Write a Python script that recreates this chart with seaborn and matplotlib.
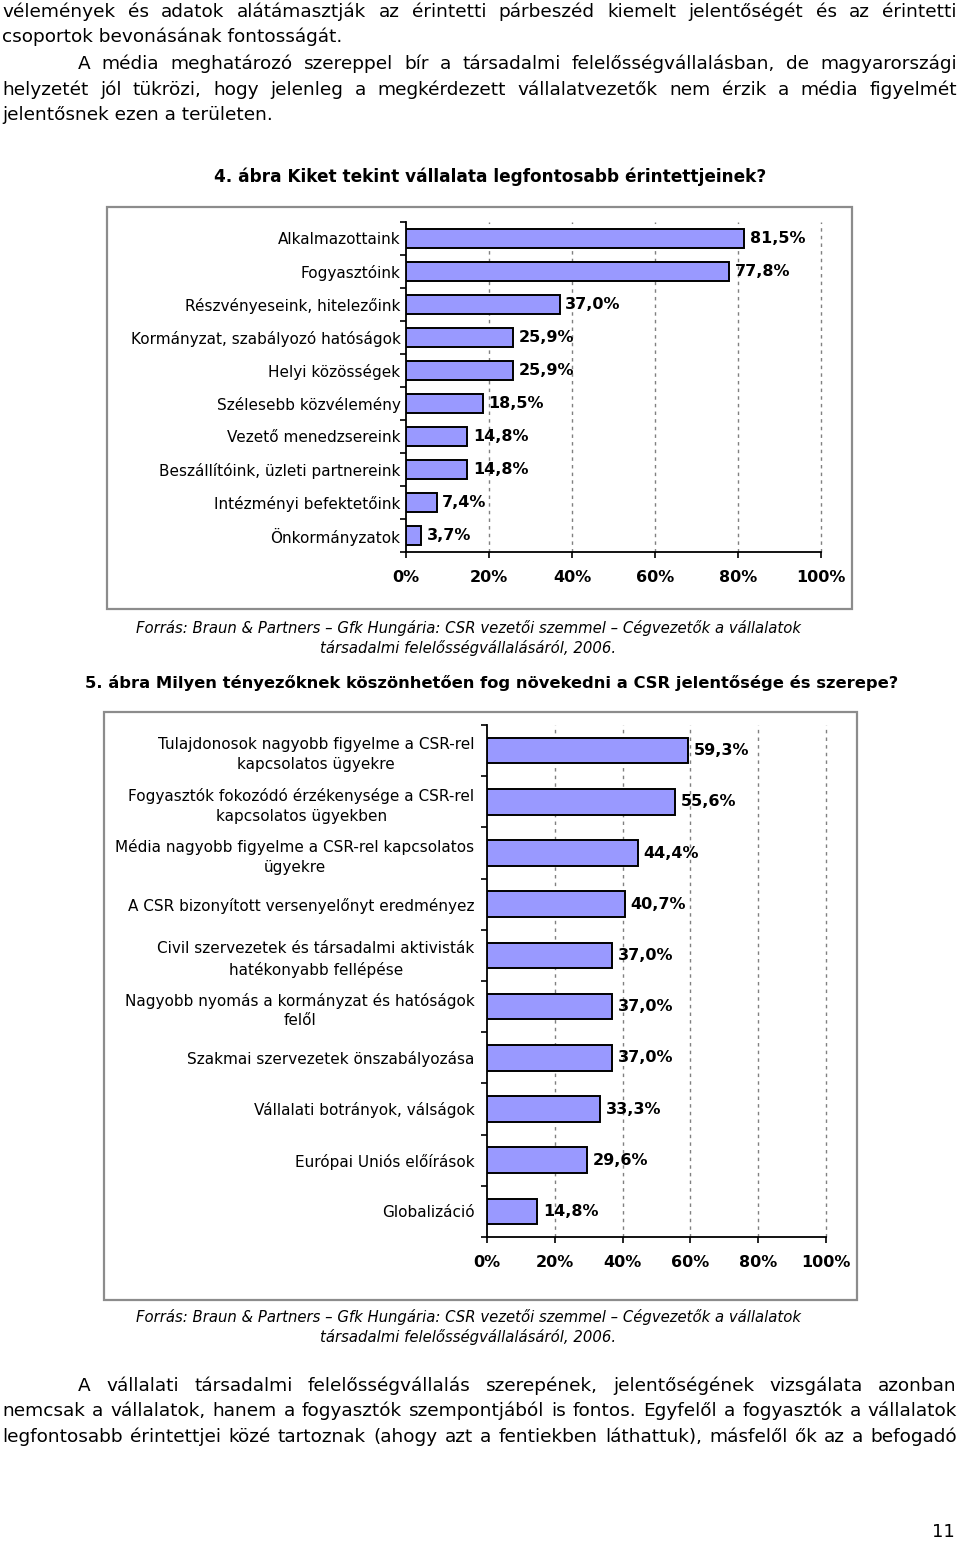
import matplotlib
matplotlib.use("Agg")
import numpy as np
import pandas as pd
import matplotlib.pyplot as plt
import seaborn as sns
from matplotlib.patches import Rectangle

W, H = 960, 1541

# 4. ábra
stakeholders = [
    "Alkalmazottaink",
    "Fogyasztóink",
    "Részvényeseink, hitelezőink",
    "Kormányzat, szabályozó hatóságok",
    "Helyi közösségek",
    "Szélesebb közvélemény",
    "Vezető menedzsereink",
    "Beszállítóink, üzleti partnereink",
    "Intézményi befektetőink",
    "Önkormányzatok",
]
stakeholder_pct = [81.5, 77.8, 37.0, 25.9, 25.9, 18.5, 14.8, 14.8, 7.4, 3.7]

# 5. ábra
drivers = [
    "Tulajdonosok nagyobb figyelme a CSR-rel\nkapcsolatos ügyekre",
    "Fogyasztók fokozódó érzékenysége a CSR-rel\nkapcsolatos ügyekben",
    "Média nagyobb figyelme a CSR-rel kapcsolatos\nügyekre",
    "A CSR bizonyított versenyelőnyt eredményez",
    "Civil szervezetek és társadalmi aktivisták\nhatékonyabb fellépése",
    "Nagyobb nyomás a kormányzat és hatóságok\nfelől",
    "Szakmai szervezetek önszabályozása",
    "Vállalati botrányok, válságok",
    "Európai Uniós előírások",
    "Globalizáció",
]
driver_pct = [59.3, 55.6, 44.4, 40.7, 37.0, 37.0, 37.0, 33.3, 29.6, 14.8]

x_ticks = [0, 20, 40, 60, 80, 100]

sns.set_theme(style="white")
plt.rcParams["font.family"] = ["DejaVu Sans"]
plt.rcParams["text.color"] = "black"
plt.rcParams["xtick.color"] = "black"
plt.rcParams["ytick.color"] = "black"
plt.rcParams["axes.labelcolor"] = "black"

fig = plt.figure(figsize=(W / 100, H / 100), dpi=100)
fig.patch.set_facecolor("white")


def fx(px):
    return px / W


def fy(py):
    return 1 - py / H


def bar_chart(left, top, right, bottom, cats, vals, bar_w, label_pad):
    ax = fig.add_axes([fx(left), fy(bottom), fx(right - left), (bottom - top) / H])
    df = pd.DataFrame({"cat": cats, "pct": vals})
    sns.barplot(data=df, x="pct", y="cat", ax=ax, color="#9999ff", saturation=1,
                width=bar_w, edgecolor="black", linewidth=1.4, zorder=3)
    ax.bar_label(ax.containers[0],
                 labels=[f"{v:.1f}%".replace(".", ",") for v in vals],
                 padding=4, fontsize=11.5, fontweight="bold", color="black")
    n = len(cats)
    ax.set_xlim(0, 100)
    ax.set_ylim(n - 0.5, -0.5)
    ax.set_xticks(x_ticks)
    ax.set_xticklabels([f"{t}%" for t in x_ticks], fontsize=11.5, fontweight="bold")
    ax.set_yticks(range(n))
    ax.set_yticklabels(cats, fontsize=11)
    for lbl in ax.get_yticklabels():
        lbl.set_multialignment("center")
        lbl.set_linespacing(1.4)
    ax.set_yticks(np.arange(-0.5, n, 1), minor=True)
    ax.tick_params(axis="y", which="major", length=0, pad=label_pad)
    ax.tick_params(axis="y", which="minor", length=4, width=1.2, direction="out", color="black", left=True)
    ax.tick_params(axis="x", length=4, width=1.2, direction="out", color="black", pad=9, bottom=True)
    for x in x_ticks[1:]:
        ax.axvline(x, color="#808080", ls=(0, (2.5, 3)), lw=1, zorder=0, clip_on=False)
    for s in ["top", "right"]:
        ax.spines[s].set_visible(False)
    for s in ["left", "bottom"]:
        ax.spines[s].set_color("black")
        ax.spines[s].set_linewidth(1.3)
    ax.set_xlabel("")
    ax.set_ylabel("")
    ax.set_facecolor("white")
    return ax


def frame(x0, y0, x1, y1):
    fig.add_artist(Rectangle((fx(x0), fy(y1)), fx(x1 - x0), (y1 - y0) / H,
                             transform=fig.transFigure, fill=False,
                             edgecolor="#8c8c8c", linewidth=1.6))


renderer = fig.canvas.get_renderer()
BODY = 13.3


def body_line(text, y, x0=2, x1=957, justify=True, size=BODY):
    if not justify:
        fig.text(fx(x0), fy(y), text, fontsize=size, va="center", ha="left")
        return
    words = text.split()
    objs = [fig.text(0, fy(y), w, fontsize=size, va="center", ha="left") for w in words]
    widths = [o.get_window_extent(renderer).width for o in objs]
    gap = (x1 - x0 - sum(widths)) / (len(words) - 1)
    x = x0
    for o, w in zip(objs, widths):
        o.set_x(fx(x))
        x += w + gap


# text above the charts
body_line("vélemények és adatok alátámasztják az érintetti párbeszéd kiemelt jelentőségét és az érintetti", 12)
body_line("csoportok bevonásának fontosságát.", 37, justify=False)
body_line("A média meghatározó szereppel bír a társadalmi felelősségvállalásban, de magyarországi", 64, x0=78)
body_line("helyzetét jól tükrözi, hogy jelenleg a megkérdezett vállalatvezetők nem érzik a média figyelmét", 90)
body_line("jelentősnek ezen a területen.", 115, justify=False)

source1 = "Forrás: Braun & Partners – Gfk Hungária: CSR vezetői szemmel – Cégvezetők a vállalatok"
source2 = "társadalmi felelősségvállalásáról, 2006."

# chart 4
fig.text(fx(490), fy(177), "4. ábra Kiket tekint vállalata legfontosabb érintettjeinek?",
         fontsize=12.2, fontweight="bold", ha="center", va="center")
frame(107, 207, 852, 609)
bar_chart(406, 222, 821, 552, stakeholders, stakeholder_pct, 0.6, 4)
fig.text(fx(468), fy(628), source1, fontsize=10.7, style="italic", ha="center", va="center")
fig.text(fx(468), fy(648), source2, fontsize=10.7, style="italic", ha="center", va="center")

# chart 5
fig.text(fx(492), fy(683), "5. ábra Milyen tényezőknek köszönhetően fog növekedni a CSR jelentősége és szerepe?",
         fontsize=11.8, fontweight="bold", ha="center", va="center")
frame(104, 712, 857, 1300)
bar_chart(487, 725, 826, 1237, drivers, driver_pct, 0.5, 9)
fig.text(fx(468), fy(1317), source1, fontsize=10.7, style="italic", ha="center", va="center")
fig.text(fx(468), fy(1337), source2, fontsize=10.7, style="italic", ha="center", va="center")

# text below the charts
body_line("A vállalati társadalmi felelősségvállalás szerepének, jelentőségének vizsgálata azonban", 1386, x0=78)
body_line("nemcsak a vállalatok, hanem a fogyasztók szempontjából is fontos. Egyfelől a fogyasztók a vállalatok", 1411)
body_line("legfontosabb érintettjei közé tartoznak (ahogy azt a fentiekben láthattuk), másfelől ők az a befogadó", 1437)

fig.text(fx(955), fy(1532), "11", fontsize=13, ha="right", va="center")

fig.savefig("out.png", dpi=100, facecolor="white")
